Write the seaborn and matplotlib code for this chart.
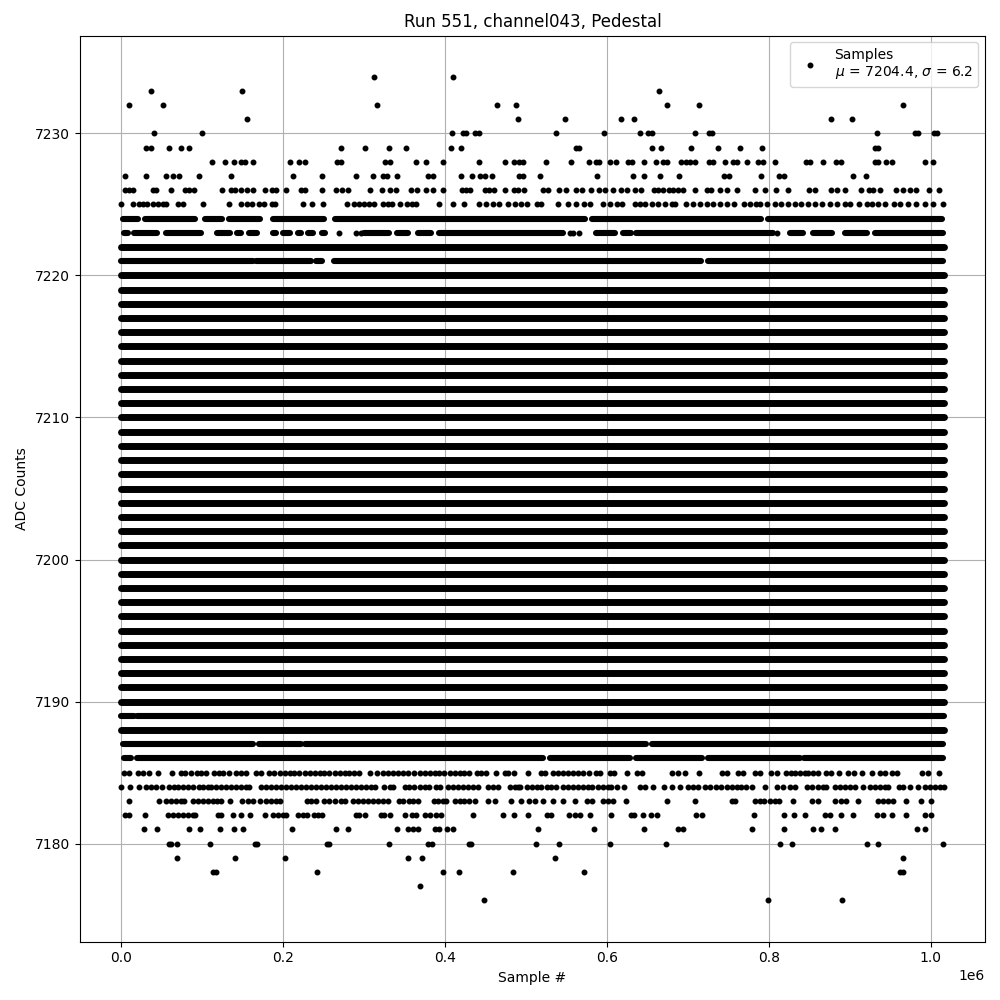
# Pedestal scatter: sparse rows are read sample by sample, the saturated rows as runs
import numpy as np
import pandas as pd
import matplotlib
matplotlib.use("Agg")
import matplotlib.pyplot as plt
import seaborn as sns

# sample positions in thousands of samples, one list per ADC level
s7234 = [312, 410]
s7233 = [36.6, 149, 664]
s7232 = [9.5, 51.5, 316, 464, 488, 674, 714, 966]
s7231 = [155, 490, 548, 617.5, 633.5, 877, 903]
s7230 = [40, 100, 408.5, 422, 426, 436.5, 442, 537, 596.5, 641, 651, 655, 709, 726, 730, 934, 980, 984, 1004, 1008]
s7229 = [30.5, 36.6, 59, 74, 83.6, 271, 301, 331, 352, 407, 420, 562, 566, 655, 667, 704, 737, 764.5, 792, 931, 935]
s7228 = [112, 128, 139, 148, 153, 163, 208, 219.5, 227, 266, 271, 326, 332, 364, 376, 397, 442, 474, 485, 491, 496,
         525, 556, 578, 586, 590, 604, 611, 626, 631, 646, 661, 669.5, 674, 692, 697, 702, 709, 726, 731, 746, 756,
         761, 773, 787, 793, 808, 846, 851, 867, 883, 889, 931, 935, 944, 952, 993, 1002]
s7227 = [4.5, 30.5, 56, 64, 71, 96, 135.5, 212, 248, 290, 311, 323, 328, 340.6, 379, 385, 420, 433, 443, 449, 458,
         491, 496, 517, 588, 632, 646, 666, 689, 745, 751, 790.5, 813, 819, 904, 920]
s7226 = [4.5, 9.5, 14.4, 39, 43, 61, 79, 84, 90, 124, 135.5, 140, 148, 156, 163, 177.5, 186, 191, 203, 221.5, 227,
         248, 265, 272.6, 280, 307, 322, 332, 339, 358, 365, 376, 385, 397, 421, 426, 431, 449, 454, 460, 474, 485,
         490, 498, 521, 527, 541, 549, 562, 569, 580, 590, 598, 608, 617.5, 625, 635, 642, 658, 663, 669, 676, 682,
         688, 694, 709, 723, 729, 739, 748, 761, 783, 795, 809, 823, 850, 857, 877, 884, 894, 914, 923, 929, 937,
         957, 966, 974, 982, 998, 1010]
s7225 = [0, 14.4, 22, 27, 32, 39, 45, 51.5, 55.6, 70, 77, 100.5, 133, 148, 155, 161, 170, 176, 186, 190, 224, 235.5,
         249, 279, 287, 294, 300, 306, 312, 323, 329, 335, 344, 353, 359, 364, 393, 410, 423, 442, 451, 459, 467,
         478, 486, 494, 501, 514, 519, 540, 552, 562, 571, 579, 595, 603.5, 612, 619, 634, 641, 647, 655, 663, 671.5,
         680, 684, 698, 706, 715, 723, 731, 739, 748, 757, 769, 776, 783.6, 789, 797, 807, 815, 824, 832, 840, 848,
         857, 865, 875, 884, 894, 900, 911.5, 921, 927, 935, 943, 954, 962, 972, 982, 993, 1003, 1015]
s7223 = [269, 290, 296, 554, 558, 566, 810]
s7185 = [3, 9.5, 21, 27, 35, 46, 63, 74, 79, 86, 93.5, 99, 105, 114.5, 121, 126, 133, 142, 148, 154, 166, 173, 182,
         189, 196, 202, 208, 214, 220, 226.5, 233, 239, 245, 251, 257, 263.5, 270, 276, 282, 288, 294, 307.6, 316,
         323, 329, 335.6, 342, 348, 354, 362, 368.6, 375, 381, 387, 393, 399, 406, 412, 418, 424, 430, 439, 445, 451,
         463, 473.6, 478, 485, 502, 518, 523, 533.5, 540, 546, 552, 558, 564, 570.5, 578, 586, 591, 604, 609, 625,
         636.5, 643, 680.5, 688, 696, 714, 742, 748, 762, 768, 783, 789, 803, 810, 821, 827, 832, 838, 844, 848, 855,
         861, 871, 877, 886, 898, 905, 914.4, 927.6, 937, 943, 951.5, 958, 988.5, 997, 1010]
s7184 = [0, 11, 22.6, 31, 37, 43, 50, 59, 65, 70, 76, 82, 89, 96, 101, 107, 111, 117, 123.5, 130, 136, 142, 148, 154,
         158.5, 173, 179, 185, 191.5, 198, 204, 210, 216, 222, 228.6, 235, 241, 247, 253, 259, 265.6, 272, 278, 284,
         290, 296.5, 303, 309, 314, 325, 331.5, 336, 350, 356, 362, 368.6, 375, 380, 389, 394, 403.6, 410, 416, 422,
         428, 434.5, 441, 453, 459, 465, 480, 486, 490, 492, 501, 507, 513, 519, 526, 531.4, 537.6, 546, 552, 558,
         564.4, 570.5, 577, 582, 589, 595, 601.4, 605.5, 612.5, 621, 640.5, 647, 657, 670.6, 680, 690, 700, 705.6,
         712.6, 721, 727, 735, 741, 748, 754, 760, 766, 772, 778.5, 795, 809.4, 817.6, 826, 832, 846.4, 852.6, 861,
         867, 871, 881.4, 888, 894, 900, 906, 916.4, 925, 931, 937, 943, 947, 960, 966, 974, 984.4, 992.6, 999, 1005,
         1011, 1016]
s7183 = [9.5, 46.5, 56, 62, 68, 74, 78, 88.5, 95, 101, 107, 113, 119, 123, 134, 149.5, 156.5, 163, 171, 179, 185,
         191.5, 195.6, 229, 235, 241, 251, 257, 264, 272, 276, 286, 292, 298.5, 305, 311, 317, 323, 329, 343, 348,
         356, 361, 366.5, 386, 391, 397, 401.5, 412, 418, 424, 430, 437, 453, 462, 481, 494, 503.6, 511, 521, 533.5,
         546, 560.7, 574.7, 581, 595, 601.4, 607, 623.7, 674, 709, 753.8, 758, 783, 789, 793.7, 801, 807.3, 812.7,
         830, 853.4, 860.9, 881.9, 889, 894.6, 910.3, 935, 941, 947, 952.7, 969.6, 987.7, 1000]
s7182 = [5, 9.5, 29, 57.6, 64, 70, 76, 82, 88.5, 91.4, 119.4, 123.5, 138, 148, 159, 177.5, 187, 193.5, 200, 203, 218,
         224, 230, 237.6, 243, 248, 290, 294, 300.6, 321, 325, 332, 351, 359, 364, 375, 381, 389, 395, 434.4, 471.5,
         485, 502, 526, 531.4, 553, 560, 566.4, 579.6, 605, 629.4, 633, 644.7, 654.5, 662, 710, 717, 781.8, 818.9,
         831, 844.8, 869, 875.3, 888.9, 904, 933.7, 941, 952.3, 969.6, 992.6, 999.6]
s7181 = [28, 44, 83.6, 97.6, 122, 139.6, 150, 211, 265, 280, 340.6, 354, 360, 366.5, 387, 393, 402, 410, 515, 584,
         646, 688, 694, 779, 819, 854.7, 864.6, 881.9, 983, 993]
s7180 = [59, 62, 69, 109.5, 165, 168, 254, 257, 331, 379, 384, 429, 431.6, 512.5, 540.9, 604, 673, 814, 828.7, 921.4,
         935, 1015]
s7179 = [69, 140, 202, 354, 371.4, 536, 965.9]
s7178 = [113, 117, 241.7, 397, 417, 484, 571.8, 961.7, 965.9]
s7177 = [369]
s7176 = [448, 799, 890.5]

sparse_levels = [7234, 7233, 7232, 7231, 7230, 7229, 7228, 7227, 7226, 7225, 7223,
                 7185, 7184, 7183, 7182, 7181, 7180, 7179, 7178, 7177, 7176]
sparse_samples = [s7234, s7233, s7232, s7231, s7230, s7229, s7228, s7227, s7226, s7225, s7223,
                  s7185, s7184, s7183, s7182, s7181, s7180, s7179, s7178, s7177, s7176]

# levels so crowded that single samples cannot be told apart: first and last sample of each run
full_run = [(0, 1016)]
runs_7224 = [(2, 21), (30, 91), (104, 124), (133, 171), (187, 250), (263.5, 572.6), (581, 790), (799, 1014)]
runs_7223 = [(3, 8), (16, 44), (55, 99), (119, 134), (143, 148), (158, 168), (187, 191), (200, 208), (218, 222),
             (231, 237), (248, 252), (300, 331), (341, 354), (366, 383), (392, 546), (587, 610), (620, 630),
             (636, 805), (826, 841.5), (855, 877.3), (894, 921), (931, 1015)]
runs_7221 = [(0, 163), (167, 235), (241, 248), (263, 716.7), (725, 1015)]
runs_7189 = [(0, 16), (19, 1016)]
runs_7187 = [(2, 163), (170, 222), (226.5, 648), (656, 1015)]
runs_7186 = [(4, 12), (19, 521), (529, 628), (636, 717), (725, 838), (843, 1015)]

run_levels = [7224, 7223, 7222, 7221, 7220, 7219, 7218, 7217, 7216, 7215, 7214, 7213, 7212, 7211, 7210, 7209, 7208,
              7207, 7206, 7205, 7204, 7203, 7202, 7201, 7200, 7199, 7198, 7197, 7196, 7195, 7194, 7193, 7192, 7191,
              7190, 7189, 7188, 7187, 7186]
run_lists = [runs_7224, runs_7223, full_run, runs_7221] + [full_run] * 31 + [runs_7189, full_run, runs_7187, runs_7186]

dots = pd.DataFrame(
    [(x * 1000, lev) for lev, xs in zip(sparse_levels, sparse_samples) for x in xs],
    columns=["sample", "adc"],
)

rows = []
run_id = 0
for lev, runs in zip(run_levels, run_lists):
    for start, end in runs:
        rows.append((run_id, start * 1000, lev, runs is full_run))
        rows.append((run_id, end * 1000, lev, runs is full_run))
        run_id += 1
runs_df = pd.DataFrame(rows, columns=["run", "sample", "adc", "full"])

fig, ax = plt.subplots(figsize=(10, 10), dpi=100)

# full rows come out a little thicker than rows that still have gaps
sns.lineplot(data=runs_df[runs_df["full"]], x="sample", y="adc", units="run", estimator=None, color="k",
             linewidth=5, solid_capstyle="round", ax=ax)
sns.lineplot(data=runs_df[~runs_df["full"]], x="sample", y="adc", units="run", estimator=None, color="k",
             linewidth=4.4, solid_capstyle="round", ax=ax)
sns.lineplot(data=dots, x="sample", y="adc", estimator=None, sort=False, color="k",
             linestyle="", marker=".", markersize=6.5, markeredgewidth=1, markeredgecolor="k",
             label="Samples\n$\\mu$ = 7204.4, $\\sigma$ = 6.2", ax=ax)

ax.set_title("Run 551, channel043, Pedestal")
ax.set_xlabel("Sample #")
ax.set_ylabel("ADC Counts")
ax.grid(True)
ax.legend(loc="upper right")
fig.subplots_adjust(left=0.08, right=0.985, top=0.9645, bottom=0.0585)
plt.savefig("out.png", dpi=100)
